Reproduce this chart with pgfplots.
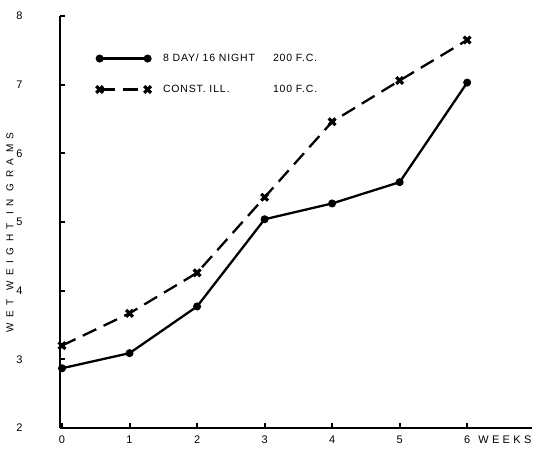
\documentclass[border=0pt]{standalone}
\usepackage{fontspec}
\setmainfont{Liberation Sans}
\usepackage{pgfplots}
\pgfplotsset{compat=1.18}
\pgfplotstableread{
x y
0 2.87
1 3.09
2 3.77
3 5.04
4 5.27
5 5.58
6 7.03
}\daynight
\pgfplotstableread{
x y
0 3.20
1 3.67
2 4.26
3 5.36
4 6.46
5 7.06
6 7.65
}\constill
\begin{document}
\begin{tikzpicture}
\useasboundingbox (-60pt,-22pt) rectangle (473pt,428pt);
\begin{axis}[
  at={(0pt,0pt)}, anchor=south west,
  scale only axis, width=472pt, height=412pt,
  xmin=-0.03, xmax=6.96, ymin=2, ymax=8,
  axis x line=bottom, axis y line=left,
  axis line style={-, line width=2pt, black},
  xtick={0,1,2,3,4,5,6},
  xticklabels={0,1,2,3,4,5,{6\rlap{\addfontfeatures{LetterSpace=30}\, WEEKS}}},
  ytick={2,3,4,5,6,7,8},
  tick align=inside, major tick length=5pt,
  tick style={line width=2pt, black},
  /pgf/number format/assume math mode=true,
  ticklabel style={font=\fontsize{11}{12}\selectfont},
  xticklabel style={yshift=-4pt},
  yticklabel style={xshift=-34pt},
  ylabel={\addfontfeatures{LetterSpace=55}WET WEIGHT IN GRAMS},
  every axis y label/.style={at={(axis description cs:-0.106,0.475)}, rotate=90, anchor=center, font=\fontsize{10}{11}\selectfont},
  legend cell align=left,
  legend style={draw=none, fill=none, at={(axis description cs:0.07,0.918)}, anchor=north west,
    row sep=18pt, font=\fontsize{10.5}{11}\selectfont},
  legend image code/.code={
    \draw[#1, mark repeat=2, mark phase=1] plot coordinates {(0pt,0pt) (24pt,0pt) (48pt,0pt)};
  },
  clip=false,
]
\addplot[black, line width=2.3pt, mark=*, mark size=2.8pt] table[x=x,y=y] {\daynight};
\addlegendentry{\hspace{10pt}\makebox[110pt][l]{\addfontfeatures{LetterSpace=8}8 DAY/ 16 NIGHT}{\addfontfeatures{LetterSpace=8}200 F.C.}}
\addplot[black, line width=2.3pt, dash pattern=on 15pt off 8pt, mark=x, mark size=4.8pt, mark options={solid, line width=3.2pt}] table[x=x,y=y] {\constill};
\addlegendentry{\hspace{10pt}\makebox[110pt][l]{\addfontfeatures{LetterSpace=8}CONST. ILL.}{\addfontfeatures{LetterSpace=8}100 F.C.}}
\end{axis}
\end{tikzpicture}
\end{document}
